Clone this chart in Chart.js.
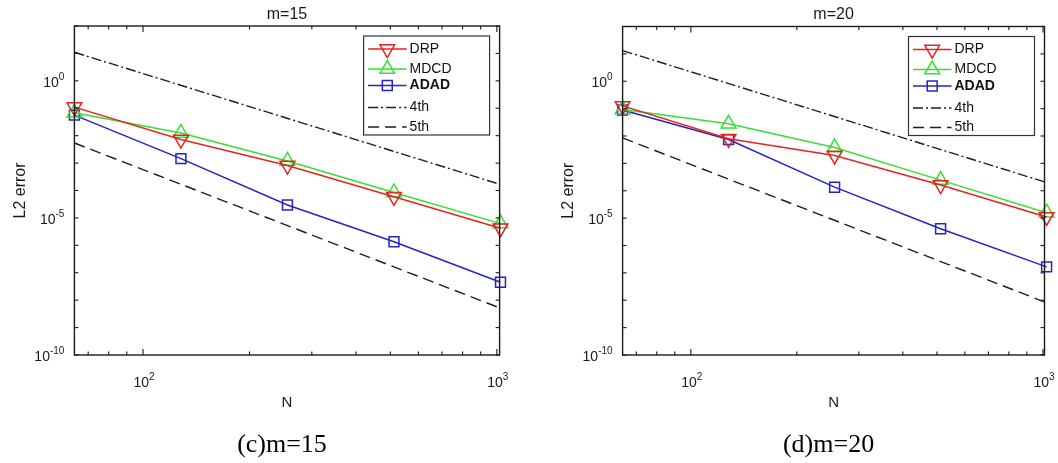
<!DOCTYPE html>
<html lang="en">
<head>
<meta charset="UTF-8">
<title>L2 error vs N, m=15 and m=20</title>
<script src="https://cdn.jsdelivr.net/npm/chart.js"></script>
<style>
  html, body { margin: 0; padding: 0; background: #fff; }
  .wrap { position: relative; width: 1058px; height: 463px; overflow: hidden; }
  canvas { position: absolute; top: 0; }
  #chartC { left: 0; }
  #chartD { left: 530px; }
</style>
</head>
<body>
<div class="wrap">
  <canvas id="chartC" width="530" height="463"></canvas>
  <canvas id="chartD" width="528" height="463"></canvas>
</div>
<script>
// grid sizes and errors
const nValues = [64, 128, 256, 512, 1024];
const refN = [64, 1024];

// (c) m=15
const drp15  = [0.11, 7.2e-3, 8.1e-4, 5.9e-5, 4.2e-6];
const mdcd15 = [0.069, 0.0126, 1.2e-3, 8.5e-5, 6.2e-6];
const adad15 = [0.056, 1.45e-3, 2.95e-5, 1.35e-6, 4.5e-8];
const order4_15 = [11, 1.66e-4];
const order5_15 = [5.4e-3, 5.1e-9];

// (d) m=20
const drp20  = [0.126, 7.9e-3, 1.95e-3, 1.62e-4, 1.1e-5];
const mdcd20 = [0.093, 0.028, 3.8e-3, 2.45e-4, 1.58e-5];
const adad20 = [0.089, 7.4e-3, 1.35e-4, 4.1e-6, 1.66e-7];
const order4_20 = [13.2, 2.0e-4];
const order5_20 = [8.5e-3, 8.1e-9];

// axis ticks
const yTickDecades = [-10, -9, -8, -7, -6, -5, -4, -3, -2, -1, 0, 1, 2];
const yLabelDecades = [-10, -5, 0];
const xMajorTicks = [100, 1000];
const xMajorExp = ['2', '3'];
const xMinorTicks = [70, 80, 90, 200, 300, 400, 500, 600, 700, 800, 900];
const legendNames = ['DRP', 'MDCD', 'ADAD', '4th', '5th'];

const SANS = '"Liberation Sans", Arial, sans-serif';
const SERIF = '"Liberation Serif", "Times New Roman", serif';

function pts(xs, ys) {
    return xs.map((x, i) => ({ x: x, y: ys[i] }));
}

// "10" with a raised exponent
function drawPow(ctx, exp, x, y, align) {
    ctx.font = '14px ' + SANS;
    const bw = ctx.measureText('10').width;
    ctx.font = '10px ' + SANS;
    const ew = ctx.measureText(exp).width;
    const left = align === 'right' ? x - bw - ew : x - (bw + ew) / 2;
    ctx.textAlign = 'left';
    ctx.textBaseline = 'alphabetic';
    ctx.font = '14px ' + SANS;
    ctx.fillText('10', left, y);
    ctx.font = '10px ' + SANS;
    ctx.fillText(exp, left + bw, y - 7);
}

function seg(ctx, x0, y0, x1, y1) {
    ctx.beginPath();
    ctx.moveTo(x0, y0);
    ctx.lineTo(x1, y1);
    ctx.stroke();
}

// matlab-like box, inward ticks, labels and legend
const matlabAxes = {
    id: 'matlabAxes',
    afterDatasetsDraw(chart, args, opts) {
        const ctx = chart.ctx;
        const a = chart.chartArea;
        const xs = chart.scales.x, ys = chart.scales.y;
        const cx = (a.left + a.right) / 2;
        ctx.save();
        ctx.strokeStyle = '#1a1a1a';
        ctx.lineWidth = 1.4;
        ctx.strokeRect(a.left, a.top, a.right - a.left, a.bottom - a.top);

        ctx.lineWidth = 1.1;
        yTickDecades.forEach(p => {
            const py = ys.getPixelForValue(Math.pow(10, p));
            seg(ctx, a.left, py, a.left + 4, py);
            seg(ctx, a.right, py, a.right - 4, py);
        });
        xMinorTicks.forEach(v => {
            const px = xs.getPixelForValue(v);
            seg(ctx, px, a.bottom, px, a.bottom - 3.5);
            seg(ctx, px, a.top, px, a.top + 3.5);
        });
        xMajorTicks.forEach(v => {
            const px = xs.getPixelForValue(v);
            seg(ctx, px, a.bottom, px, a.bottom - 6);
            seg(ctx, px, a.top, px, a.top + 6);
        });

        ctx.fillStyle = '#1a1a1a';
        yLabelDecades.forEach(p => {
            const py = ys.getPixelForValue(Math.pow(10, p));
            drawPow(ctx, String(p), a.left - 10, py + 6, 'right');
        });
        xMajorTicks.forEach((v, i) => {
            drawPow(ctx, xMajorExp[i], xs.getPixelForValue(v) + 1, 387, 'center');
        });

        // titles
        ctx.textAlign = 'center';
        ctx.textBaseline = 'alphabetic';
        ctx.font = '16px ' + SANS;
        ctx.fillText(opts.title, cx, 19);
        ctx.font = '15px ' + SANS;
        ctx.fillText('N', cx, 407);
        ctx.save();
        ctx.translate(a.left - 54, (a.top + a.bottom) / 2);
        ctx.rotate(-Math.PI / 2);
        ctx.textBaseline = 'middle';
        ctx.font = '16px ' + SANS;
        ctx.fillText('L2 error', 0, 0);
        ctx.restore();
        ctx.fillStyle = '#000';
        ctx.font = '26px ' + SERIF;
        ctx.fillText(opts.caption, cx - 5, 452);

        // legend
        const bw = 126, bh = 99;
        const bx = a.right - 10 - bw, by = a.top + 10;
        const rows = [13, 33, 49.5, 71.5, 91];
        ctx.fillStyle = '#fff';
        ctx.fillRect(bx, by, bw, bh);
        ctx.strokeStyle = '#333';
        ctx.lineWidth = 1.2;
        ctx.strokeRect(bx, by, bw, bh);
        chart.data.datasets.forEach((ds, i) => {
            const ly = by + rows[i];
            ctx.strokeStyle = ds.borderColor;
            ctx.lineWidth = ds.borderWidth;
            ctx.setLineDash(ds.borderDash || []);
            seg(ctx, bx + 4.5, ly, bx + 43, ly);
            ctx.setLineDash([]);
            if (ds.pointRadius > 0) {
                ctx.fillStyle = 'rgba(0,0,0,0)';
                ctx.strokeStyle = ds.pointBorderColor;
                ctx.lineWidth = ds.pointBorderWidth;
                Chart.helpers.drawPoint(ctx, {
                    pointStyle: ds.pointStyle,
                    rotation: ds.pointRotation || 0,
                    radius: ds.pointRadius,
                    borderWidth: ds.pointBorderWidth
                }, bx + 23.7, ly);
            }
            ctx.fillStyle = '#111';
            ctx.textAlign = 'left';
            ctx.textBaseline = 'middle';
            ctx.font = (ds.label === 'ADAD' ? 'bold ' : '') + '14px ' + SANS;
            ctx.fillText(legendNames[i], bx + 46, ly);
        });
        ctx.restore();
    }
};

function series(label, color, data, style, rotation, radius) {
    return {
        label: label,
        data: pts(nValues, data),
        showLine: true,
        borderColor: color,
        borderWidth: 1.5,
        pointStyle: style,
        pointRotation: rotation,
        pointRadius: radius,
        pointBorderColor: color,
        pointBackgroundColor: 'rgba(0,0,0,0)',
        pointBorderWidth: 1.5,
        clip: false
    };
}

function refLine(label, data, dash) {
    return {
        label: label,
        data: pts(refN, data),
        showLine: true,
        borderColor: '#1e1e1e',
        borderWidth: 1.4,
        borderDash: dash,
        pointRadius: 0
    };
}

function makeChart(id, xMax, pad, d, title, caption) {
    new Chart(document.getElementById(id), {
        type: 'scatter',
        data: {
            datasets: [
                series('DRP', '#e8221f', d[0], 'triangle', 180, 8.5),
                series('MDCD', '#35e035', d[1], 'triangle', 0, 8.5),
                series('ADAD', '#2424c4', d[2], 'rect', 0, 7),
                refLine('4th', d[3], [10, 3, 2, 3]),
                refLine('5th', d[4], [11, 6])
            ]
        },
        options: {
            responsive: false,
            animation: false,
            events: [],
            layout: { padding: pad },
            scales: {
                x: { type: 'logarithmic', min: 64, max: xMax, display: false },
                y: { type: 'logarithmic', min: 1e-10, max: 1e2, display: false }
            },
            plugins: {
                legend: { display: false },
                tooltip: { enabled: false },
                matlabAxes: { title: title, caption: caption }
            }
        },
        plugins: [matlabAxes]
    });
}

makeChart('chartC', 1018, { left: 74.4, top: 26, right: 30.4, bottom: 108 },
    [drp15, mdcd15, adad15, order4_15, order5_15], 'm=15', '(c)m=15');
makeChart('chartD', 1010, { left: 92.6, top: 26.5, right: 13.5, bottom: 108 },
    [drp20, mdcd20, adad20, order4_20, order5_20], 'm=20', '(d)m=20');
</script>
</body>
</html>
